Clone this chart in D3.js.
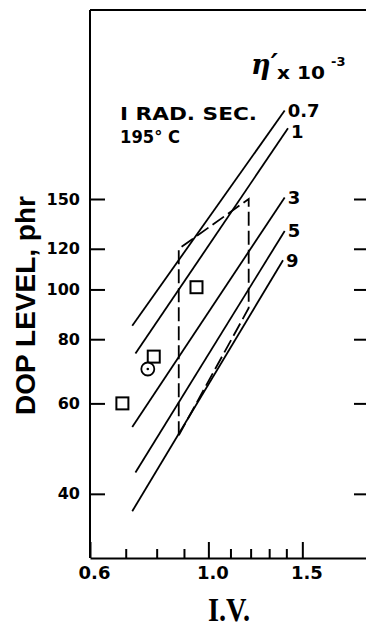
<!DOCTYPE html>
<html>
<head>
<meta charset="utf-8">
<script src="https://cdn.jsdelivr.net/npm/d3@7"></script>
<style>
  body { margin: 0; background: #fff; }
  svg { display: block; }
  .axis path, .axis line { stroke: #000; stroke-width: 2; }
  .axis text { font-family: "DejaVu Sans", sans-serif; font-weight: bold; font-size: 16px; fill: #000; }
  .lbl { font-family: "DejaVu Sans", sans-serif; font-weight: bold; fill: #000; }
</style>
</head>
<body>
<div id="chart"></div>
<script>
// axis ticks
const ivTicks = [0.6, 0.7, 0.8, 0.9, 1.0, 1.1, 1.2, 1.3, 1.4, 1.5];
const ivLabels = [0.6, 1.0, 1.5];
const dopTicks = [40, 60, 80, 100, 120, 150];

// constant-viscosity lines (eta' x 10^-3), start and end points
const viscosity = ["0.7", "1", "3", "5", "9"];
const lineIV = [[0.72, 1.39], [0.73, 1.41], [0.72, 1.39], [0.73, 1.39], [0.72, 1.38]];
const lineDOP = [[85, 223], [75, 206], [54, 151], [44, 130], [37, 114]];

// dashed region
const regionIV = [0.88, 0.88, 1.19, 1.19, 0.88];
const regionDOP = [52, 120, 150, 92, 52];

// measured points
const squareIV = [0.69, 0.79, 0.95];
const squareDOP = [60, 74, 101];
const circleIV = [0.77];
const circleDOP = [70];

const W = 366, H = 629;
const plot = { left: 90, right: 369, top: 10, bottom: 558 };

const svg = d3.select("#chart")
    .append("svg")
    .attr("width", W)
    .attr("height", H);

const x = d3.scaleLog()
    .domain([0.6, 2.0])
    .range([plot.left, plot.right]);

const y = d3.scaleLog()
    .domain([30, 350])
    .range([plot.bottom, plot.top]);

// frame: top line
svg.append("line")
    .attr("x1", plot.left).attr("x2", plot.right)
    .attr("y1", plot.top).attr("y2", plot.top)
    .attr("stroke", "#000").attr("stroke-width", 2);

// left axis
const yAxis = svg.append("g")
    .attr("class", "axis")
    .attr("transform", `translate(${plot.left},0)`)
    .call(d3.axisLeft(y).tickValues(dopTicks).tickSizeInner(-15).tickSizeOuter(0)
        .tickPadding(10).tickFormat(d3.format("d")));
yAxis.select(".domain").attr("d", `M0,${plot.top}V${plot.bottom}`);

// right axis (line off the picture, ticks only)
svg.append("g")
    .attr("class", "axis")
    .attr("transform", `translate(${plot.right},0)`)
    .call(d3.axisRight(y).tickValues(dopTicks).tickSizeInner(-15).tickSizeOuter(0).tickFormat(""));

// bottom axis
const xAxis = svg.append("g")
    .attr("class", "axis")
    .attr("transform", `translate(0,${plot.bottom})`)
    .call(d3.axisBottom(x).tickValues(ivTicks).tickSizeInner(-9).tickSizeOuter(0).tickPadding(8)
        .tickFormat(d => ivLabels.includes(d) ? d3.format(".1f")(d) : ""));
xAxis.selectAll(".tick line")
    .attr("y2", d => ivLabels.includes(d) ? -16 : -9);
xAxis.selectAll("text")
    .attr("dx", 4)
    .style("font-size", "18px");

// viscosity lines
viscosity.forEach((v, i) => {
    const p0 = [x(lineIV[i][0]), y(lineDOP[i][0])];
    const p1 = [x(lineIV[i][1]), y(lineDOP[i][1])];
    svg.append("line")
        .attr("x1", p0[0]).attr("y1", p0[1])
        .attr("x2", p1[0]).attr("y2", p1[1])
        .attr("stroke", "#000")
        .attr("stroke-width", 1.8);
    svg.append("text")
        .attr("class", "lbl")
        .attr("x", p1[0] + 3)
        .attr("y", p1[1] + (v === "1" ? 3 : 0))
        .attr("dy", "0.36em")
        .style("font-size", "18px")
        .text(v);
});

// dashed region
const region = d3.line()
    .x(d => x(d[0]))
    .y(d => y(d[1]));

svg.append("path")
    .datum(regionIV.map((v, i) => [v, regionDOP[i]]))
    .attr("d", region)
    .attr("fill", "none")
    .attr("stroke", "#000")
    .attr("stroke-width", 1.8)
    .attr("stroke-dasharray", "14,5");

// squares
svg.selectAll(".sq")
    .data(squareIV.map((v, i) => [v, squareDOP[i]]))
    .enter()
    .append("rect")
    .attr("class", "sq")
    .attr("x", d => x(d[0]) - 6)
    .attr("y", d => y(d[1]) - 6)
    .attr("width", 12)
    .attr("height", 12)
    .attr("fill", "#fff")
    .attr("stroke", "#000")
    .attr("stroke-width", 2);

// circle with centre dot
const circles = svg.selectAll(".ci")
    .data(circleIV.map((v, i) => [v, circleDOP[i]]))
    .enter()
    .append("g")
    .attr("class", "ci");
circles.append("circle")
    .attr("cx", d => x(d[0]))
    .attr("cy", d => y(d[1]))
    .attr("r", 6.5)
    .attr("fill", "#fff")
    .attr("stroke", "#000")
    .attr("stroke-width", 1.8);
circles.append("circle")
    .attr("cx", d => x(d[0]))
    .attr("cy", d => y(d[1]))
    .attr("r", 1.3)
    .attr("fill", "#000");

// annotations
svg.append("text")
    .attr("class", "lbl")
    .attr("x", 120).attr("y", 120)
    .attr("textLength", 137).attr("lengthAdjust", "spacingAndGlyphs")
    .style("font-size", "17px")
    .text("I RAD.  SEC.");
svg.append("text")
    .attr("class", "lbl")
    .attr("x", 120).attr("y", 143)
    .attr("textLength", 60).attr("lengthAdjust", "spacingAndGlyphs")
    .style("font-size", "17px")
    .text("195° C");

// eta' x 10^-3 heading
svg.append("text")
    .attr("x", 251).attr("y", 74)
    .style("font-family", "DejaVu Serif, serif")
    .style("font-style", "italic")
    .style("font-weight", "bold")
    .style("font-size", "27px")
    .text("η′");
svg.append("text")
    .attr("class", "lbl")
    .attr("x", 277).attr("y", 79)
    .attr("textLength", 48).attr("lengthAdjust", "spacingAndGlyphs")
    .style("font-size", "18px")
    .text("x 10");
svg.append("text")
    .attr("class", "lbl")
    .attr("x", 331).attr("y", 66)
    .style("font-size", "13px")
    .text("-3");

// axis titles
svg.append("text")
    .attr("transform", `translate(35,${(193 + 418) / 2}) rotate(-90)`)
    .attr("text-anchor", "middle")
    .style("font-family", "Liberation Sans, Arial, sans-serif")
    .style("font-weight", "bold").style("font-size", "28px")
    .text("DOP LEVEL, phr");

svg.append("text")
    .attr("x", 229).attr("y", 621)
    .attr("text-anchor", "middle")
    .attr("textLength", 42).attr("lengthAdjust", "spacingAndGlyphs")
    .style("font-family", "Liberation Serif, Times New Roman, serif")
    .style("font-weight", "bold").style("font-size", "33px")
    .text("I.V.");
</script>
</body>
</html>
